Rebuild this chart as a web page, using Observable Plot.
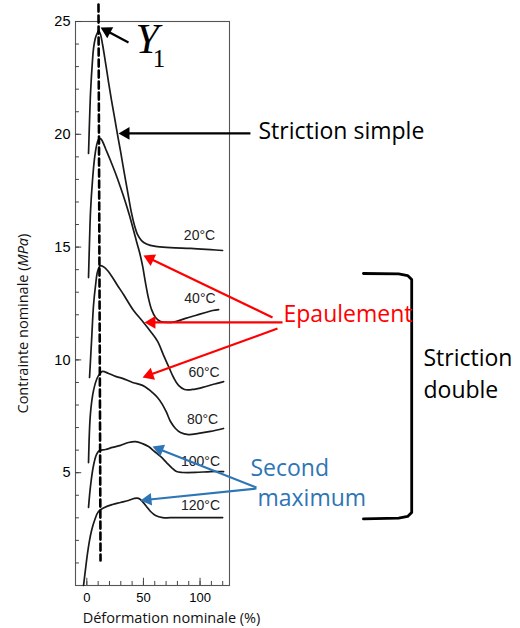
<!DOCTYPE html>
<html><head><meta charset="utf-8">
<script src="https://cdn.jsdelivr.net/npm/d3@7"></script>
<script src="https://cdn.jsdelivr.net/npm/@observablehq/plot@0.6"></script>
<style>html,body{margin:0;padding:0;background:#fff;} #chart svg{display:block}</style>
</head><body><div id="chart"></div>
<script>
// ---- data: nominal strain (%) vs nominal stress (MPa), curves are vertically offset as in the source figure
const temperatures = ["20°C", "40°C", "60°C", "80°C", "100°C", "120°C"];
const curve20 = [[1.5,19.15],[2.4,20.61],[3.3,21.85],[5.0,23.27],[5.9,23.80],[7.7,24.29],[9.5,24.51],[10.3,24.60],[12.1,24.42],[13.9,23.98],[16.5,23.18],[19.2,22.30],[21.8,21.50],[24.5,20.74],[27.1,19.99],[29.8,19.24],[33.3,18.22],[36.8,17.24],[39.4,16.53],[42.1,15.96],[44.7,15.56],[48.3,15.29],[52.7,15.14],[60.7,15.03],[73.9,14.98],[91.6,14.94],[109.3,14.89],[119.9,14.85]];
const curve40 = [[1.5,13.65],[2.4,15.29],[3.3,16.62],[5.0,17.95],[6.8,18.93],[8.6,19.50],[10.3,19.77],[12.1,19.81],[13.9,19.68],[16.5,19.37],[20.9,18.84],[25.4,18.26],[29.8,17.64],[34.2,16.98],[37.7,16.40],[41.3,15.74],[43.9,15.25],[46.6,14.76],[49.2,14.18],[51.9,13.39],[54.5,12.72],[57.2,12.23],[60.7,11.88],[65.1,11.70],[71.3,11.66],[78.4,11.70],[87.2,11.84],[96.0,11.97],[104.9,12.10],[111.1,12.19],[116.4,12.23]];
const curve60 = [[2.4,9.22],[4.2,10.86],[5.9,12.41],[7.7,13.30],[9.5,13.92],[12.1,14.18],[15.6,14.10],[20.9,13.79],[27.1,13.30],[32.4,12.90],[41.3,12.19],[50.1,11.66],[56.3,11.26],[62.5,10.82],[67.8,10.20],[72.2,9.71],[76.6,9.22],[81.0,8.87],[86.3,8.69],[93.4,8.69],[102.2,8.78],[111.1,8.91],[120.8,9.04]];
const curve80 = [[1.5,5.45],[3.2,7.62],[5.9,8.64],[9.4,9.22],[12.1,9.42],[13.8,9.49],[19.2,9.40],[25.4,9.27],[31.5,9.18],[40.4,9.00],[49.2,8.87],[54.5,8.70],[58.0,8.55],[62.4,8.33],[66.8,8.02],[70.4,7.67],[73.9,7.27],[78.3,6.96],[82.7,6.78],[89.8,6.69],[98.6,6.74],[109.2,6.83],[120.7,6.96]];
const curve100 = [[1.5,3.46],[3.3,4.43],[5.9,5.32],[8.6,5.81],[11.2,5.98],[16.5,6.03],[22.7,6.12],[29.8,6.21],[36.8,6.34],[43.0,6.38],[49.2,6.29],[54.5,6.16],[59.8,5.94],[65.1,5.72],[70.4,5.45],[74.8,5.23],[79.2,5.05],[84.5,5.01],[96.0,5.01],[109.3,5.05],[120.8,5.05]];
const curve120 = [[-2.9,0.00],[-1.1,0.75],[0.6,1.42],[2.4,2.00],[4.2,2.44],[6.8,2.88],[10.3,3.28],[15.6,3.46],[22.7,3.59],[29.8,3.68],[36.8,3.77],[42.1,3.86],[45.7,3.86],[49.2,3.72],[52.7,3.50],[56.3,3.28],[60.7,3.10],[66.9,3.01],[78.4,3.01],[100.5,3.01],[119.9,3.01]];

const xTicks = [0, 50, 100];
const xMinorTicks = [0, 10, 20, 30, 40, 50, 60, 70, 80, 90, 100, 110, 120];
const yTicks = [5, 10, 15, 20, 25];
const yMinorTicks = [1,2,3,4,5,6,7,8,9,10,11,12,13,14,15,16,17,18,19,20,21,22,23,24];
const xLabel = "Déformation nominale (%)";
const yLabel = "Contrainte nominale (MPa)";
const yieldSymbol = "Y1";

// ---- annotation placements (data units)
const tempLabelX = [99.5, 99.9, 103.5, 102.2, 100.4, 100.4];
const tempLabelY = [15.51, 12.72, 9.44, 7.36, 5.50, 3.55];
const yieldLine = [[10.3, 25.75], [12.1, 1.11]];
const annotTexts = [
  {text: "Striction simple", x: 151.6, y: 20.14, color: "#000000"},
  {text: "Epaulement", x: 173.7, y: 11.99, color: "#FF0000"},
  {text: "Striction", x: 297.3, y: 10.04, color: "#000000"},
  {text: "double", x: 297.3, y: 8.66, color: "#000000"},
  {text: "Second", x: 144.5, y: 5.20, color: "#2E75B6"},
  {text: "maximum", x: 150.7, y: 3.83, color: "#2E75B6"}
];
const arrows = [
  {x1: 36.8, y1: 24.07, x2: 12.1, y2: 24.73, color: "#000000"},
  {x1: 144.5, y1: 20.04, x2: 28.0, y2: 20.04, color: "#000000"},
  {x1: 164.0, y1: 11.88, x2: 50.0, y2: 14.63, color: "#FF0000"},
  {x1: 172.8, y1: 11.66, x2: 50.9, y2: 11.66, color: "#FF0000"},
  {x1: 168.4, y1: 11.39, x2: 49.2, y2: 9.22, color: "#FF0000"},
  {x1: 149.8, y1: 4.34, x2: 58.0, y2: 6.16, color: "#2E75B6"},
  {x1: 149.8, y1: 4.30, x2: 47.4, y2: 3.77, color: "#2E75B6"}
];
const bracket = [[244.3,13.83],[275.4,13.81],[283.3,13.74],[286.9,13.56],[286.9,3.24],[283.3,3.06],[275.4,2.99],[244.3,2.95]];

// ---- build
const W = 520, H = 628, mL = 75, mR = 291, mT = 21, mB = 43;
const xDomain = [-10, 126], yDomain = [0, 25];
const sx = d3.scaleLinear(xDomain, [mL, W - mR]);
const sy = d3.scaleLinear(yDomain, [H - mB, mT]);

const curves = [curve20, curve40, curve60, curve80, curve100, curve120];
const rows = curves.flatMap((c, i) => c.map(([x, y]) => ({temp: temperatures[i], x, y})));
const tempLabels = temperatures.map((t, i) => ({text: t, x: tempLabelX[i], y: tempLabelY[i]}));

const HEAD = 11;
const shafts = [], heads = [];
for (const a of arrows) {
  const px1 = sx(a.x1), py1 = sy(a.y1), px2 = sx(a.x2), py2 = sy(a.y2);
  const L = Math.hypot(px2 - px1, py2 - py1), ux = (px2 - px1) / L, uy = (py2 - py1) / L;
  shafts.push({x1: a.x1, y1: a.y1, x2: sx.invert(px2 - ux * HEAD * 0.85), y2: sy.invert(py2 - uy * HEAD * 0.85), color: a.color});
  heads.push({x: sx.invert(px2 - ux * HEAD * 2 / 3), y: sy.invert(py2 - uy * HEAD * 2 / 3), rotate: Math.atan2(ux, -uy) * 180 / Math.PI, color: a.color});
}

const sans = "'Open Sans', 'DejaVu Sans', sans-serif";
const arial = "'Liberation Sans', Arial, sans-serif";
const serif = "'Liberation Serif', 'Times New Roman', serif";

const plot = Plot.plot({
  width: W, height: H,
  marginLeft: mL, marginRight: mR, marginTop: mT, marginBottom: mB,
  x: {domain: xDomain},
  y: {domain: yDomain},
  color: {type: "identity"},
  style: {fontFamily: arial, background: "#ffffff", overflow: "visible"},
  marks: [
    Plot.frame({stroke: "#555", strokeWidth: 1.1}),
    Plot.ruleX(xMinorTicks, {y1: 0, y2: 0.18, stroke: "#444"}),
    Plot.ruleX(xTicks, {y1: 0, y2: 0.32, stroke: "#444"}),
    Plot.ruleY(yMinorTicks, {x1: -10, x2: -6.5, stroke: "#444"}),
    Plot.ruleY(yTicks, {x1: -10, x2: -4.5, stroke: "#444"}),
    Plot.axisX(xTicks, {tickSize: 0, tickPadding: 7, fontSize: 13, label: null, fontFamily: arial}),
    Plot.axisY(yTicks, {tickSize: 0, tickPadding: 5, fontSize: 14.5, label: null, fontFamily: arial}),
    Plot.line(rows, {x: "x", y: "y", z: "temp", stroke: "#1a1a1a", strokeWidth: 1.7, curve: "catmull-rom"}),
    Plot.line(yieldLine, {x: d => d[0], y: d => d[1], stroke: "#000", strokeWidth: 2.6, strokeDasharray: "7,4"}),
    Plot.text(tempLabels, {x: "x", y: "y", text: "text", fontSize: 14, fontFamily: arial, fill: "#222"}),
    Plot.link(shafts, {x1: "x1", y1: "y1", x2: "x2", y2: "y2", stroke: "color", strokeWidth: 2.2}),
    Plot.dot(heads, {x: "x", y: "y", r: 4.7, symbol: "triangle", fill: "color", stroke: null, rotate: "rotate"}),
    Plot.line(bracket, {x: d => d[0], y: d => d[1], stroke: "#000", strokeWidth: 2.8, curve: "linear"}),
    Plot.text(annotTexts, {x: "x", y: "y", text: "text", fill: "color", textAnchor: "start", fontSize: 23, fontFamily: sans}),
    Plot.text([yieldSymbol], {x: 43.0, y: 24.18, text: d => d, textAnchor: "start", fontSize: 42, fontFamily: serif, fill: "#000"}),
    Plot.text([yLabel], {x: -55.9, y: 11.61, text: d => d, rotate: -90, fontSize: 14.5, fontFamily: sans, fill: "#111"}),
    Plot.text([xLabel], {x: 74.8, y: -1.44, text: d => d, fontSize: 14.5, fontFamily: sans, fill: "#111"})
  ]
});

// rich text: italic unit in the y label, italic Y with subscript 1
d3.select(plot).selectAll("text").each(function() {
  const el = d3.select(this);
  if (this.textContent === yLabel) {
    el.text(null);
    el.append("tspan").text("Contrainte nominale (");
    el.append("tspan").attr("font-style", "italic").text("MPa");
    el.append("tspan").text(")");
  } else if (this.textContent === yieldSymbol) {
    el.text(null);
    el.append("tspan").attr("font-style", "italic").text("Y");
    el.append("tspan").attr("font-size", 25).attr("dx", -6).attr("dy", 14).text("1");
  }
});

document.getElementById("chart").appendChild(plot);
</script>
</body></html>
